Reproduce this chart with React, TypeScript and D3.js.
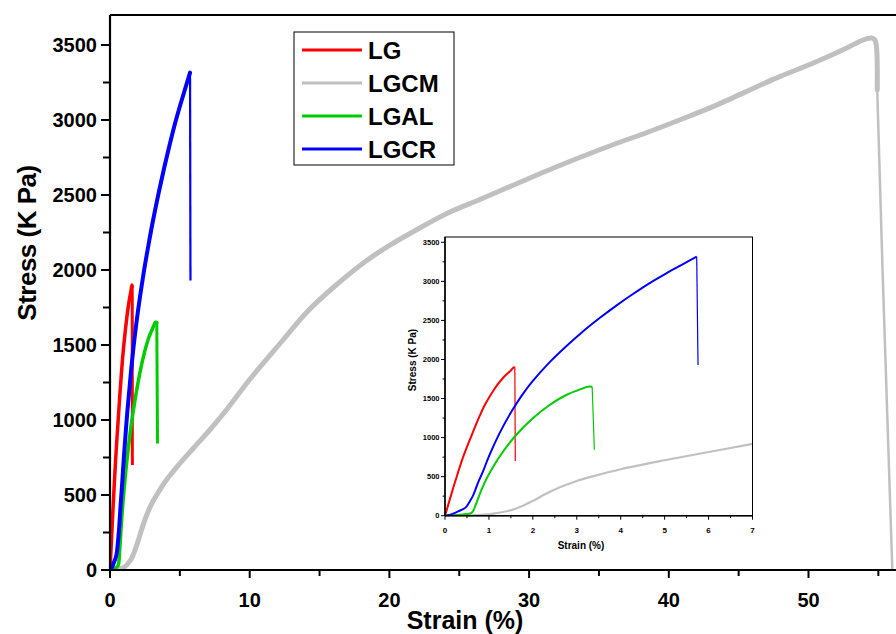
import React from 'react';
import * as d3 from 'd3';

type Pt = [number, number];

const seriesNames = ['LG', 'LGCM', 'LGAL', 'LGCR'];
const seriesColors = ['#ff0000', '#c0c0c0', '#00cc00', '#0000ff'];

// strain (%), stress (KPa)
const LG: Pt[] = [
  [0, 0], [0.1, 190], [0.2, 380], [0.3, 560], [0.4, 730], [0.5, 880], [0.6, 1020], [0.7, 1160],
  [0.8, 1290], [0.9, 1410], [1.0, 1510], [1.1, 1600], [1.2, 1680], [1.3, 1750], [1.4, 1810],
  [1.5, 1860], [1.57, 1900], [1.59, 1890], [1.6, 700],
];
const LGCM: Pt[] = [
  [0, 0], [0.5, 3], [1, 18], [1.5, 70], [1.8, 135], [2, 190], [2.3, 280], [2.6, 360], [3, 445],
  [3.34, 500], [4, 595], [5, 710], [6, 815], [7.2, 940], [8.4, 1075], [10, 1270], [12.4, 1535],
  [14.1, 1720], [16, 1885], [18.4, 2065], [20.3, 2180], [21.6, 2250], [24.08, 2375], [26.47, 2470],
  [28.85, 2565], [31.24, 2660], [33.62, 2750], [36, 2835], [38.39, 2915], [40.77, 3000],
  [43.16, 3089], [45.54, 3189], [47.93, 3289], [50.31, 3378], [52.7, 3478], [53.88, 3533],
  [54.5, 3547], [54.72, 3538], [54.85, 3500],
  [54.92, 3200], [55.3, 2000], [55.65, 1000], [56.0, 0],
];
const LGAL: Pt[] = [
  [0, 0], [0.2, 5], [0.4, 15], [0.55, 25], [0.62, 45], [0.7, 140], [0.8, 290], [0.9, 420],
  [1.0, 530], [1.24, 755], [1.62, 1033], [2.0, 1246], [2.38, 1417], [2.76, 1545], [3.14, 1630],
  [3.25, 1652], [3.35, 1650], [3.4, 843],
];
const LGCR: Pt[] = [
  [0, 0], [0.1, 10], [0.2, 30], [0.3, 55], [0.4, 80], [0.48, 110], [0.55, 170], [0.64, 260],
  [0.75, 420], [0.86, 560], [1.0, 760], [1.24, 1054], [1.5, 1320], [1.75, 1540], [2.0, 1725],
  [2.4, 1975], [2.76, 2170], [3.1, 2340], [3.52, 2530], [3.9, 2690], [4.27, 2835], [4.65, 2975],
  [5.03, 3100], [5.4, 3215], [5.73, 3316], [5.76, 1930],
];
const seriesData = [LG, LGCM, LGAL, LGCR];
// number of trailing points that form the fracture drop
const dropCounts = [2, 4, 2, 2];

const mainXTicks = [0, 10, 20, 30, 40, 50];
const mainXMinor = [5, 15, 25, 35, 45, 55];
const mainYTicks = [0, 500, 1000, 1500, 2000, 2500, 3000, 3500];
const mainYMinor = [250, 750, 1250, 1750, 2250, 2750, 3250];
const insetXTicks = [0, 1, 2, 3, 4, 5, 6, 7];
const insetXMinor = [0.5, 1.5, 2.5, 3.5, 4.5, 5.5, 6.5];
const insetYTicks = [0, 500, 1000, 1500, 2000, 2500, 3000, 3500];
const insetYMinor = [250, 750, 1250, 1750, 2250, 2750, 3250];

const FONT = '"Liberation Sans", Arial, Helvetica, sans-serif';

export default function App() {
  const W = 896, H = 634;
  // main plot
  const mx = d3.scaleLinear().domain([0, 50]).range([110, 808.5]);
  const my = d3.scaleLinear().domain([0, 3500]).range([570, 45]);
  const mTop = 15, mRight = 900;
  // inset plot
  const ix = d3.scaleLinear().domain([0, 7]).range([445, 752.5]);
  const iy = d3.scaleLinear().domain([0, 3500]).range([515.7, 242.3]);
  const iTop = 237, iBottom = 515.7, iLeft = 445, iRight = 752.5;

  const mainCurve = d3.line<Pt>().x(d => mx(d[0])).y(d => my(d[1])).curve(d3.curveCatmullRom.alpha(0.5));
  const mainLin = d3.line<Pt>().x(d => mx(d[0])).y(d => my(d[1]));
  const insetData = seriesData.map(s => {
    // keep inset points within its x-domain (clip gray)
    const out: Pt[] = [];
    for (let i = 0; i < s.length; i++) {
      const p = s[i];
      if (p[0] <= 7) out.push(p);
      else {
        const q = s[i - 1];
        const t = (7 - q[0]) / (p[0] - q[0]);
        out.push([7, q[1] + t * (p[1] - q[1])]);
        break;
      }
    }
    return out;
  });
  const insetCurve = d3.line<Pt>().x(d => ix(d[0])).y(d => iy(d[1])).curve(d3.curveCatmullRom.alpha(0.5));
  const insetLin = d3.line<Pt>().x(d => ix(d[0])).y(d => iy(d[1]));

  const mainWidths = [3.5, 5, 3.5, 4];
  const mainDropWidths = [3, 2.5, 3, 2.2];

  return (
    <svg width={W} height={H} style={{ position: 'absolute', left: 0, top: 0, background: '#fff' }}
      fontFamily={FONT}>
      <rect x={0} y={0} width={W} height={H} fill="#fff" />
      <defs>
        <clipPath id="mainclip">
          <rect x={110} y={mTop} width={mRight - 110} height={570 - mTop} />
        </clipPath>
        <clipPath id="insetclip">
          <rect x={iLeft} y={iTop} width={iRight - iLeft} height={iBottom - iTop} />
        </clipPath>
      </defs>
      {/* main curves */}
      <g clipPath="url(#mainclip)">
        {seriesData.map((s, i) => {
          const n = s.length - dropCounts[i];
          const body = s.slice(0, n + 1);
          const drop = s.slice(n);
          return (
            <g key={i}>
              <path d={mainCurve(body) || ''} fill="none" stroke={seriesColors[i]} strokeWidth={mainWidths[i]}
                strokeLinejoin="round" strokeLinecap="round" />
              <path d={mainLin(drop) || ''} fill="none" stroke={seriesColors[i]} strokeWidth={mainDropWidths[i]} />
            </g>
          );
        })}
      </g>
      {/* main frame */}
      <line x1={110} x2={mRight} y1={mTop} y2={mTop} stroke="#000" strokeWidth={2} />
      <line x1={110} x2={110} y1={mTop} y2={571} stroke="#000" strokeWidth={2.2} />
      <line x1={109} x2={mRight} y1={570} y2={570} stroke="#000" strokeWidth={2.2} />
      {/* main y ticks */}
      {mainYTicks.map(t => (
        <g key={'my' + t}>
          <line x1={101} x2={110} y1={my(t)} y2={my(t)} stroke="#000" strokeWidth={2} />
          <text x={97} y={my(t)} dy="0.35em" textAnchor="end" fontSize={20} fontWeight="bold">{t}</text>
        </g>
      ))}
      {mainYMinor.map(t => (
        <line key={'mym' + t} x1={103} x2={110} y1={my(t)} y2={my(t)} stroke="#000" strokeWidth={2} />
      ))}
      {/* main x ticks */}
      {mainXTicks.map(t => (
        <g key={'mx' + t}>
          <line x1={mx(t)} x2={mx(t)} y1={570} y2={578} stroke="#000" strokeWidth={2} />
          <text x={mx(t)} y={600} dy="0.35em" textAnchor="middle" fontSize={20} fontWeight="bold">{t}</text>
        </g>
      ))}
      {mainXMinor.map(t => (
        <line key={'mxm' + t} x1={mx(t)} x2={mx(t)} y1={570} y2={576} stroke="#000" strokeWidth={2} />
      ))}
      <text x={465} y={620} dy="0.35em" textAnchor="middle" fontSize={25} fontWeight="bold">Strain (%)</text>
      <text transform="translate(27,243) rotate(-90)" textAnchor="middle" dy="0.35em" fontSize={26}
        fontWeight="bold" letterSpacing={-0.5}>Stress (K Pa)</text>

      {/* legend */}
      <rect x={294} y={32} width={160} height={133} fill="#fff" stroke="#000" strokeWidth={1} />
      {seriesNames.map((n, i) => (
        <g key={n}>
          <line x1={302} x2={362} y1={50 + i * 33} y2={50 + i * 33} stroke={seriesColors[i]} strokeWidth={3} />
          <text x={368} y={50 + i * 33} dy="0.36em" fontSize={24} fontWeight="bold">{n}</text>
        </g>
      ))}

      {/* inset */}
      <rect x={iLeft} y={iTop} width={iRight - iLeft} height={iBottom - iTop} fill="#fff" />
      <g clipPath="url(#insetclip)">
        {insetData.map((s, i) => {
          const isGray = i === 1;
          const n = isGray ? s.length : s.length - dropCounts[i];
          const body = s.slice(0, Math.min(s.length, n + 1));
          const drop = isGray ? [] : s.slice(n);
          return (
            <g key={'i' + i}>
              <path d={insetCurve(body) || ''} fill="none" stroke={seriesColors[i]} strokeWidth={isGray ? 2.2 : 2}
                strokeLinejoin="round" />
              {drop.length > 1 && (
                <path d={insetLin(drop) || ''} fill="none" stroke={seriesColors[i]} strokeWidth={1.2} />
              )}
            </g>
          );
        })}
      </g>
      <rect x={iLeft} y={iTop} width={iRight - iLeft} height={iBottom - iTop} fill="none" stroke="#000" strokeWidth={1} />
      <line x1={iLeft} x2={iRight} y1={iBottom} y2={iBottom} stroke="#000" strokeWidth={1.5} />
      <line x1={iLeft} x2={iLeft} y1={iTop} y2={iBottom} stroke="#000" strokeWidth={1.5} />
      {insetYTicks.map(t => (
        <g key={'iy' + t}>
          <line x1={iLeft - 4} x2={iLeft} y1={iy(t)} y2={iy(t)} stroke="#000" strokeWidth={1} />
          <text x={iLeft - 5.5} y={iy(t)} dy="0.35em" textAnchor="end" fontSize={7.5} fontWeight="bold">{t}</text>
        </g>
      ))}
      {insetYMinor.map(t => (
        <line key={'iym' + t} x1={iLeft - 2.5} x2={iLeft} y1={iy(t)} y2={iy(t)} stroke="#000" strokeWidth={1} />
      ))}
      {insetXTicks.map(t => (
        <g key={'ix' + t}>
          <line x1={ix(t)} x2={ix(t)} y1={iBottom} y2={iBottom + 4} stroke="#000" strokeWidth={1} />
          <text x={ix(t)} y={iBottom + 14} dy="0.35em" textAnchor="middle" fontSize={8} fontWeight="bold">{t}</text>
        </g>
      ))}
      {insetXMinor.map(t => (
        <line key={'ixm' + t} x1={ix(t)} x2={ix(t)} y1={iBottom} y2={iBottom + 2.5} stroke="#000" strokeWidth={1} />
      ))}
      <text x={581} y={545} dy="0.35em" textAnchor="middle" fontSize={10} fontWeight="bold">Strain (%)</text>
      <text transform="translate(412,360) rotate(-90)" textAnchor="middle" dy="0.35em" fontSize={10}
        fontWeight="bold">Stress (K Pa)</text>
    </svg>
  );
}
